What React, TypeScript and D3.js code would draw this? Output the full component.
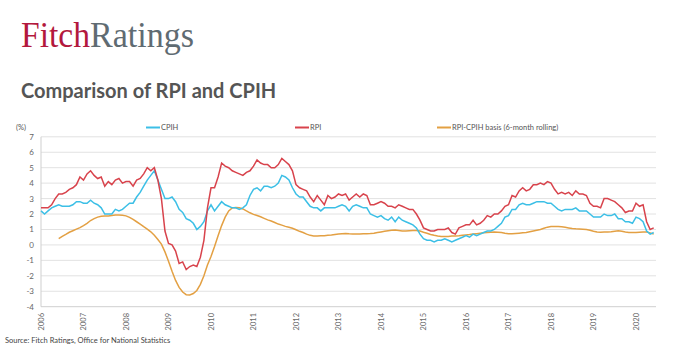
import React from "react";
import * as d3 from "d3";

const START_YEAR = 2006;
const yearTicks = [2006, 2007, 2008, 2009, 2010, 2011, 2012, 2013, 2014, 2015, 2016, 2017, 2018, 2019, 2020];
const yTicks = [7, 6, 5, 4, 3, 2, 1, 0, -1, -2, -3, -4];

// Monthly, Jan 2006 .. Jun 2020
const rpi = [
  2.4, 2.4, 2.4, 2.6, 3.0, 3.3, 3.3, 3.4, 3.6, 3.7, 3.9, 4.4,
  4.2, 4.6, 4.8, 4.5, 4.3, 4.4, 3.8, 4.1, 3.9, 4.2, 4.3, 4.0,
  4.1, 4.1, 3.8, 4.2, 4.3, 4.6, 5.0, 4.8, 5.0, 4.2, 3.0, 0.9,
  0.1, 0.0, -0.4, -1.2, -1.1, -1.6, -1.4, -1.3, -1.4, -0.8, 0.3, 2.4,
  3.7, 3.7, 4.4, 5.3, 5.1, 5.0, 4.8, 4.7, 4.6, 4.5, 4.7, 4.8,
  5.1, 5.5, 5.3, 5.2, 5.2, 5.0, 5.0, 5.2, 5.6, 5.4, 5.2, 4.8,
  3.9, 3.7, 3.6, 3.5, 3.1, 2.8, 3.2, 2.9, 2.6, 3.2, 3.0, 3.1,
  3.3, 3.2, 3.3, 2.9, 3.1, 3.3, 3.1, 3.3, 3.2, 2.6, 2.6, 2.7,
  2.8, 2.7, 2.5, 2.5, 2.4, 2.6, 2.5, 2.4, 2.3, 2.3, 2.0, 1.6,
  1.1, 1.0, 0.9, 0.9, 1.0, 1.0, 1.0, 1.1, 0.8, 0.7, 1.1, 1.2,
  1.3, 1.3, 1.6, 1.3, 1.4, 1.6, 1.9, 1.8, 2.0, 2.0, 2.2, 2.5,
  2.6, 3.2, 3.1, 3.5, 3.7, 3.5, 3.6, 3.9, 3.9, 4.0, 3.9, 4.1,
  4.0, 3.6, 3.3, 3.4, 3.3, 3.4, 3.2, 3.5, 3.3, 3.3, 3.2, 2.7,
  2.5, 2.5, 2.4, 3.0, 3.0, 2.9, 2.8, 2.6, 2.4, 2.1, 2.2, 2.2,
  2.7, 2.5, 2.6, 1.5, 1.0, 1.1,
];

const cpih = [
  2.2, 2.0, 2.2, 2.4, 2.5, 2.6, 2.5, 2.5, 2.5, 2.6, 2.8, 2.8,
  2.7, 2.7, 2.9, 2.7, 2.6, 2.4, 2.0, 2.0, 2.0, 2.3, 2.2, 2.3,
  2.5, 2.7, 2.7, 3.1, 3.4, 3.8, 4.2, 4.5, 4.8, 4.2, 3.6, 3.0,
  3.0, 3.1, 2.8, 2.3, 2.1, 1.7, 1.6, 1.4, 1.0, 1.2, 1.5, 2.2,
  2.6, 2.2, 2.5, 2.8, 2.6, 2.5, 2.4, 2.4, 2.3, 2.4, 2.6, 3.2,
  3.6, 3.7, 3.5, 3.8, 3.8, 3.7, 3.8, 4.0, 4.5, 4.4, 4.2, 3.7,
  3.3, 3.1, 3.1, 2.8, 2.5, 2.4, 2.4, 2.2, 2.4, 2.4, 2.4, 2.4,
  2.5, 2.6, 2.5, 2.2, 2.5, 2.6, 2.5, 2.4, 2.4, 2.0, 1.9, 1.8,
  1.9, 1.7, 1.6, 1.8, 1.5, 1.8, 1.6, 1.5, 1.4, 1.3, 1.1, 0.7,
  0.4, 0.3, 0.3, 0.2, 0.3, 0.3, 0.4, 0.3, 0.2, 0.3, 0.4, 0.5,
  0.6, 0.5, 0.7, 0.6, 0.7, 0.8, 0.9, 0.9, 1.0, 1.2, 1.4, 1.8,
  1.9, 2.3, 2.3, 2.6, 2.7, 2.6, 2.6, 2.7, 2.8, 2.8, 2.8, 2.7,
  2.7, 2.5, 2.3, 2.2, 2.3, 2.3, 2.3, 2.4, 2.2, 2.2, 2.2, 2.0,
  1.8, 1.8, 1.8, 2.0, 1.9, 1.9, 2.0, 1.7, 1.7, 1.5, 1.5, 1.4,
  1.8, 1.7, 1.5, 0.9, 0.7, 0.8,
];

// 6-month rolling basis, Jun 2006 .. Jun 2020
const BASIS_START_MONTH = 5;
const basis = [
  0.41, 0.55, 0.68, 0.82, 0.92, 1.02, 1.12,
  1.25, 1.40, 1.58, 1.70, 1.80, 1.85, 1.87, 1.88, 1.90, 1.93, 1.94, 1.92,
  1.88, 1.78, 1.65, 1.50, 1.35, 1.18, 1.02, 0.85, 0.62, 0.35, 0.05, -0.45,
  -1.05, -1.7, -2.3, -2.75, -3.05, -3.22, -3.24, -3.15, -2.95, -2.55, -2.0, -1.3,
  -0.75, -0.1, 0.6, 1.25, 1.8, 2.2, 2.4, 2.43, 2.4, 2.33, 2.2, 2.08,
  1.98, 1.9, 1.82, 1.72, 1.62, 1.55, 1.45, 1.35, 1.28, 1.2, 1.14, 1.08,
  0.98, 0.88, 0.8, 0.7, 0.62, 0.58, 0.58, 0.59, 0.6, 0.62, 0.64, 0.67,
  0.7, 0.72, 0.74, 0.72, 0.71, 0.71, 0.7, 0.72, 0.73, 0.74, 0.76, 0.8,
  0.84, 0.88, 0.92, 0.95, 0.96, 0.93, 0.9, 0.9, 0.92, 0.94, 0.94, 0.9,
  0.82, 0.75, 0.68, 0.62, 0.58, 0.55, 0.54, 0.55, 0.57, 0.58, 0.6, 0.63,
  0.65, 0.67, 0.7, 0.73, 0.76, 0.78, 0.8, 0.82, 0.83, 0.82, 0.8, 0.76,
  0.73, 0.72, 0.74, 0.76, 0.78, 0.8, 0.85, 0.9, 0.95, 1.0, 1.08, 1.15,
  1.19, 1.2, 1.19, 1.17, 1.14, 1.1, 1.06, 1.04, 1.03, 1.02, 1.0, 0.95,
  0.88, 0.83, 0.82, 0.83, 0.84, 0.86, 0.89, 0.91, 0.88, 0.84, 0.81, 0.8,
  0.8, 0.82, 0.84, 0.84, 0.78, 0.7,
];

const seriesNames = ["CPIH", "RPI", "RPI-CPIH basis (6-month rolling)"];
const colors = { cpih: "#3cbfe6", rpi: "#d8434c", basis: "#e3a043" };

type Pt = { t: number; v: number };
const toPts = (arr: number[], offset = 0): Pt[] =>
  arr.map((v, i) => ({ t: START_YEAR + (i + offset) / 12, v }));

export default function App() {
  const W = 679, H = 355;
  const x = d3.scaleLinear().domain([2006, 2020]).range([41, 636]);
  const y = d3.scaleLinear().domain([-4, 7]).range([306.7, 136.8]);
  const gridRight = 656;
  const line = d3.line<Pt>().x((d) => x(d.t)).y((d) => y(d.v));
  const font = "Lato, 'Open Sans', sans-serif";

  const legendItems = [
    { name: seriesNames[0], color: colors.cpih, x0: 146 },
    { name: seriesNames[1], color: colors.rpi, x0: 295 },
    { name: seriesNames[2], color: colors.basis, x0: 437 },
  ];

  return (
    <svg width={W} height={H} style={{ position: "absolute", left: 0, top: 0, background: "#fff" }} fontFamily={font}>
      <rect width={W} height={H} fill="#fff" />
      {/* Logo */}
      <text x={21} y={47} fontFamily="'Liberation Serif', 'DejaVu Serif', serif" fontSize={36} fill="#b3183d" textLength={69} lengthAdjust="spacingAndGlyphs">Fitch</text>
      <text x={90} y={47} fontFamily="'Liberation Serif', 'DejaVu Serif', serif" fontSize={36} fill="#5f6b72" textLength={104} lengthAdjust="spacingAndGlyphs">Ratings</text>
      {/* Title */}
      <text x={21} y={98} fontSize={20} fontWeight={700} fill="#555">Comparison of RPI and CPIH</text>

      {/* Legend */}
      <text x={16} y={130} fontSize={7.5} fill="#555">(%)</text>
      {legendItems.map((l) => (
        <g key={l.name}>
          <line x1={l.x0} x2={l.x0 + 14} y1={127.5} y2={127.5} stroke={l.color} strokeWidth={2} />
          <text x={l.x0 + 15} y={130} fontSize={7.5} fill="#555">{l.name}</text>
        </g>
      ))}

      {/* Grid */}
      {yTicks.map((t) => (
        <g key={t}>
          <line x1={41} x2={gridRight} y1={y(t)} y2={y(t)} stroke={t === -4 ? "#cfcfcf" : "#e2e2e2"} strokeWidth={1} />
          <text x={34} y={y(t) + 3} fontSize={8} fill="#666" textAnchor="end">{t}</text>
        </g>
      ))}
      <line x1={41} x2={41} y1={y(7)} y2={y(-4)} stroke="#cfcfcf" strokeWidth={1} />

      {/* X labels */}
      {yearTicks.map((yr) => (
        <text key={yr} transform={`translate(${x(yr) + 2.5},313) rotate(-90)`} fontSize={7.5} fill="#666" textAnchor="end">{yr}</text>
      ))}

      {/* Lines */}
      <path d={line(toPts(basis, BASIS_START_MONTH)) || ""} fill="none" stroke={colors.basis} strokeWidth={1.5} />
      <path d={line(toPts(cpih)) || ""} fill="none" stroke={colors.cpih} strokeWidth={1.5} />
      <path d={line(toPts(rpi)) || ""} fill="none" stroke={colors.rpi} strokeWidth={1.5} />

      {/* Source */}
      <text x={5} y={343} fontSize={7.5} fill="#444">Source: Fitch Ratings, Office for National Statistics</text>
    </svg>
  );
}
